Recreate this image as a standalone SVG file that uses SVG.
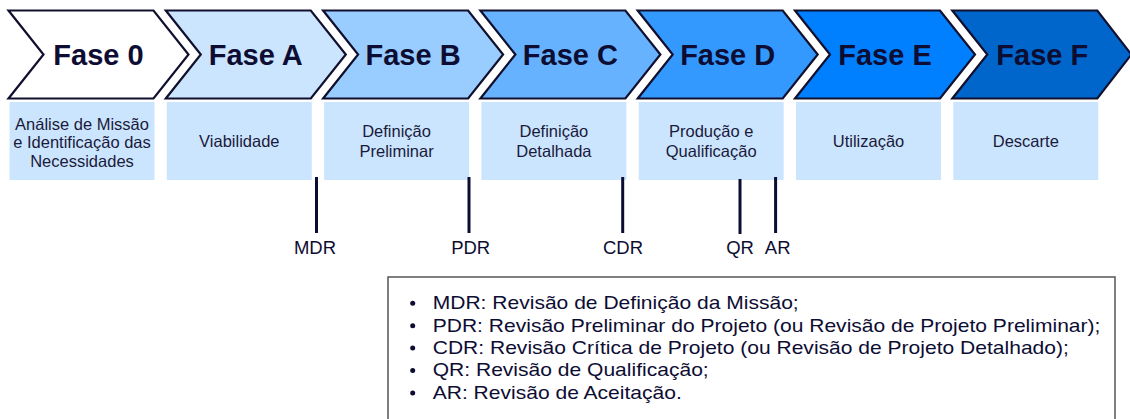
<svg xmlns="http://www.w3.org/2000/svg" width="1130" height="419" viewBox="0 0 1130 419">
<style>
.chev{stroke:#10102e;stroke-width:2.2;stroke-linejoin:miter}
.title{font-family:"Liberation Sans",Arial,sans-serif;font-weight:bold;font-size:29px;fill:#0d0d33;text-anchor:middle}
.box{fill:#cce5ff}
.desc{font-family:"Liberation Sans",Arial,sans-serif;font-size:16.5px;fill:#1a1a3a;text-anchor:middle}
.ms{stroke:#0d0d33;stroke-width:3}
.mlab{font-family:"Liberation Sans",Arial,sans-serif;font-size:18.5px;fill:#0d0d33;text-anchor:middle}
.leg{font-family:"Liberation Sans",Arial,sans-serif;font-size:18px;fill:#0d0d33}
</style>
<rect width="1130" height="419" fill="#ffffff"/>

<g id="fase0">
<path class="chev" fill="#ffffff" d="M8.5,10.5 H153.5 L188.5,54.5 L153.5,98.5 H8.5 L43.5,54.5 Z"/>
<text class="title" x="98.5" y="65">Fase 0</text>
<rect class="box" x="9.5" y="102" width="145" height="78"/>
<text class="desc" x="82" y="129.5">Análise de Missão</text>
<text class="desc" x="82" y="148">e Identificação das</text>
<text class="desc" x="82" y="166.7">Necessidades</text>
</g>

<g id="faseA">
<path class="chev" fill="#cce5ff" d="M165.8,10.5 H310.8 L345.8,54.5 L310.8,98.5 H165.8 L200.8,54.5 Z"/>
<text class="title" x="255.8" y="65">Fase A</text>
<rect class="box" x="166.8" y="102" width="145" height="78"/>
<text class="desc" x="239.3" y="146.7">Viabilidade</text>
</g>

<g id="faseB">
<path class="chev" fill="#99ccff" d="M323.1,10.5 H468.1 L503.1,54.5 L468.1,98.5 H323.1 L358.1,54.5 Z"/>
<text class="title" x="413.1" y="65">Fase B</text>
<rect class="box" x="324.1" y="102" width="145" height="78"/>
<text class="desc" x="396.6" y="137">Definição</text>
<text class="desc" x="396.6" y="157">Preliminar</text>
</g>

<g id="faseC">
<path class="chev" fill="#66b2ff" d="M480.4,10.5 H625.4 L660.4,54.5 L625.4,98.5 H480.4 L515.4,54.5 Z"/>
<text class="title" x="570.4" y="65">Fase C</text>
<rect class="box" x="481.4" y="102" width="145" height="78"/>
<text class="desc" x="553.9" y="137">Definição</text>
<text class="desc" x="553.9" y="157">Detalhada</text>
</g>

<g id="faseD">
<path class="chev" fill="#3399ff" d="M637.7,10.5 H782.7 L817.7,54.5 L782.7,98.5 H637.7 L672.7,54.5 Z"/>
<text class="title" x="727.7" y="65">Fase D</text>
<rect class="box" x="638.7" y="102" width="145" height="78"/>
<text class="desc" x="711.2" y="137">Produção e</text>
<text class="desc" x="711.2" y="157">Qualificação</text>
</g>

<g id="faseE">
<path class="chev" fill="#007fff" d="M795,10.5 H940 L975,54.5 L940,98.5 H795 L830,54.5 Z"/>
<text class="title" x="885" y="65">Fase E</text>
<rect class="box" x="796" y="102" width="145" height="78"/>
<text class="desc" x="868.5" y="146.7">Utilização</text>
</g>

<g id="faseF">
<path class="chev" fill="#0066cc" d="M952.3,10.5 H1097.3 L1131.3,54.5 L1097.3,98.5 H952.3 L987.3,54.5 Z"/>
<text class="title" x="1042.3" y="65">Fase F</text>
<rect class="box" x="953.3" y="102" width="145" height="78"/>
<text class="desc" x="1025.8" y="146.7">Descarte</text>
</g>

<g id="connectors">
<line class="ms" x1="316.5" y1="177" x2="316.5" y2="233"/>
<line class="ms" x1="469" y1="177" x2="469" y2="233"/>
<line class="ms" x1="622.7" y1="177" x2="622.7" y2="233"/>
<line class="ms" x1="740" y1="179" x2="740" y2="234"/>
<line class="ms" x1="775.6" y1="177" x2="775.6" y2="233"/>
</g>

<g id="milestones">
<text class="mlab" x="315" y="254">MDR</text>
<text class="mlab" x="470.7" y="254">PDR</text>
<text class="mlab" x="623" y="254">CDR</text>
<text class="mlab" x="740" y="254">QR</text>
<text class="mlab" x="777.7" y="254">AR</text>
</g>

<g id="legend">
<rect x="388" y="277" width="727" height="160" fill="#ffffff" stroke="#555555" stroke-width="1.5"/>
<circle cx="412.7" cy="303.3" r="2.5" fill="#0d0d33"/>
<circle cx="412.7" cy="325.7" r="2.5" fill="#0d0d33"/>
<circle cx="412.7" cy="348.1" r="2.5" fill="#0d0d33"/>
<circle cx="412.7" cy="370.5" r="2.5" fill="#0d0d33"/>
<circle cx="412.7" cy="392.9" r="2.5" fill="#0d0d33"/>
<g transform="translate(432.7 0) scale(1.169 1)">
<text class="leg" x="0" y="309.3">MDR: Revisão de Definição da Missão;</text>
<text class="leg" x="0" y="331.7">PDR: Revisão Preliminar do Projeto (ou Revisão de Projeto Preliminar);</text>
<text class="leg" x="0" y="354.1">CDR: Revisão Crítica de Projeto (ou Revisão de Projeto Detalhado);</text>
<text class="leg" x="0" y="376.5">QR: Revisão de Qualificação;</text>
<text class="leg" x="0" y="398.9">AR: Revisão de Aceitação.</text>
</g>
</g>
</svg>
